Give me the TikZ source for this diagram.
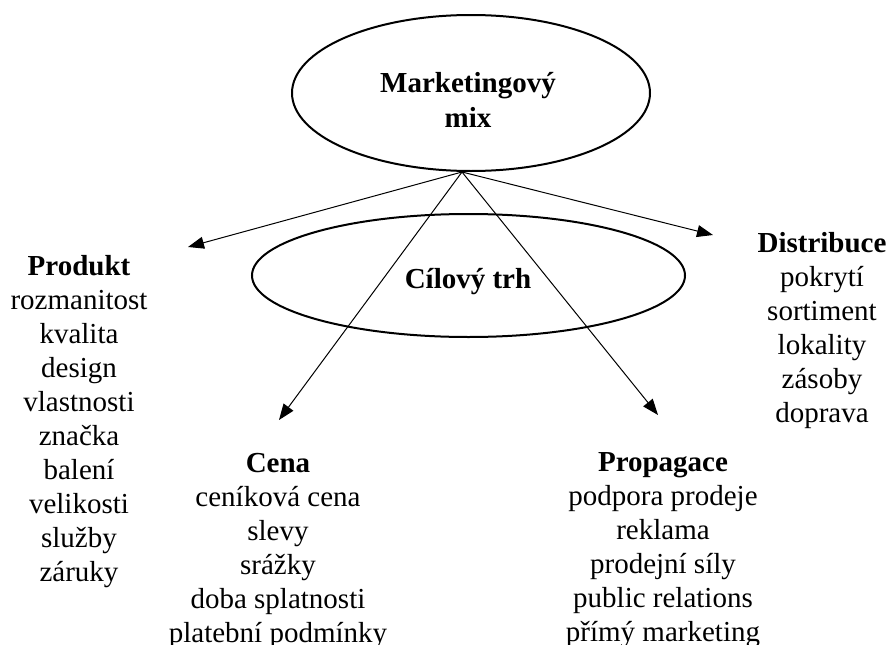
\documentclass[tikz,border=0pt]{standalone}
\usepackage{fontspec}
\setmainfont{Liberation Serif}
\usetikzlibrary{arrows.meta,shapes.geometric}
\begin{document}
\begin{tikzpicture}[x=1pt,y=-1pt,
  ell/.style={ellipse,draw,line width=2pt,inner sep=0pt},
  txt/.style={font=\fontsize{29}{34}\selectfont,align=center,inner sep=0pt},
  arr/.style={line width=1pt,-{Triangle[length=16pt,width=12pt]}}]
\useasboundingbox (0,0) rectangle (889,645);
% ellipses
\node[ell,minimum width=358pt,minimum height=156pt] (mm) at (471,93) {};
\node[txt,font=\fontsize{29}{35}\selectfont\bfseries] (mmt) at (468,100) {Marketingový\\mix};
\node[ell,minimum width=433pt,minimum height=123pt] (ct) at (468.5,275.5) {};
\node[txt,font=\fontsize{29}{34}\selectfont\bfseries] (ctt) at (468,282) {Cílový trh};
% text blocks
\node[txt,anchor=north] (produkt) at (79,255) {\textbf{Produkt}\\rozmanitost\\kvalita\\design\\vlastnosti\\značka\\balení\\velikosti\\služby\\záruky};
\node[txt,anchor=north] (distribuce) at (822,232) {\textbf{Distribuce}\\pokrytí\\sortiment\\lokality\\zásoby\\doprava};
\node[txt,anchor=north] (cena) at (278,453) {\textbf{Cena}\\ceníková cena\\slevy\\srážky\\doba splatnosti\\platební podmínky};
\node[txt,anchor=north] (propagace) at (663,452) {\textbf{Propagace}\\podpora prodeje\\reklama\\prodejní síly\\public relations\\přímý marketing};
% connectors
\coordinate (o) at (462,172);
\coordinate (tl) at (188,247);
\coordinate (tr) at (713,235);
\coordinate (bl) at (279,420);
\coordinate (br) at (658,415);
\draw[arr] (o) -- (tl);
\draw[arr] (o) -- (tr);
\draw[arr] (o) -- (bl);
\draw[arr] (o) -- (br);
\end{tikzpicture}
\end{document}
